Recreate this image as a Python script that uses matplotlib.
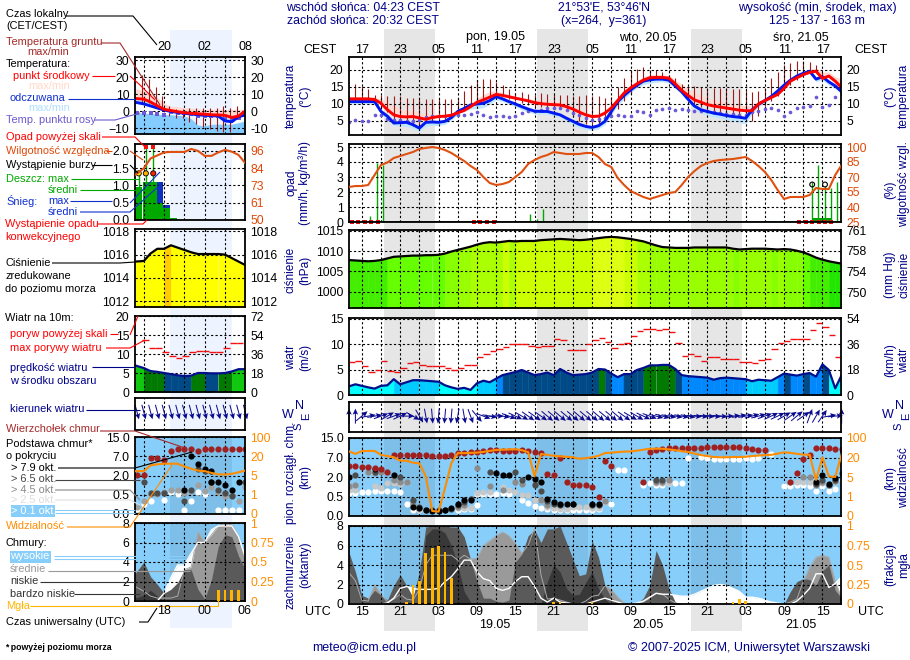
import numpy as np
import matplotlib

matplotlib.use("Agg")
import matplotlib.pyplot as plt
from matplotlib.colors import BoundaryNorm, ListedColormap

plt.rcParams["font.family"] = ["Liberation Sans", "DejaVu Sans"]

# --- main panel, hourly from 13 UTC 18.05 ---
temp_mid = [11.5, 11.5, 11.5, 11.5, 11.3, 10.2, 8.3, 6.8, 6.3, 6.2,
            6.3, 5.9, 5.5, 6.0, 6.3, 6.4, 6.7, 7.4, 8.1, 9.2,
            10.5, 11.2, 12.0, 12.8, 12.5, 12.1, 11.7, 11.3, 10.9, 10.4,
            10.1, 9.9, 9.8, 9.7, 9.2, 8.5, 7.6, 6.8, 6.3, 6.4,
            7.3, 8.8, 11.0, 13.2, 14.7, 15.9, 17.0, 17.7, 17.8, 17.8,
            17.6, 15.9, 14.0, 12.5, 11.2, 10.5, 9.8, 9.4, 9.1, 8.8,
            8.5, 8.2, 8.0, 8.0, 10.0, 11.0, 11.9, 12.8, 14.6, 16.7,
            17.7, 18.6, 19.3, 19.6, 17.5, 18.2, 16.7, 14.8]
temp_feels = [10.7, 10.7, 10.7, 10.7, 10.7, 7.8, 6.4, 4.4, 4.5, 4.6,
              3.9, 2.9, 4.6, 4.7, 4.6, 4.9, 6.0, 7.8, 8.7, 9.7,
              10.0, 10.2, 11.0, 12.2, 11.5, 10.7, 10.0, 9.2, 8.5, 7.9,
              7.8, 7.8, 7.3, 6.8, 5.8, 4.9, 4.0, 3.4, 3.1, 3.6,
              4.9, 7.8, 10.7, 12.5, 14.1, 15.5, 16.7, 17.1, 17.3, 17.3,
              17.0, 15.3, 13.6, 11.4, 9.4, 8.3, 7.8, 7.3, 7.0, 6.6,
              6.3, 6.1, 5.8, 8.3, 9.9, 11.0, 12.2, 13.8, 15.5, 17.0,
              18.2, 19.0, 19.6, 17.3, 18.0, 16.5, 15.3, 13.6]
temp_hi = [12.0, 12.0, 12.0, 12.0, 12.0, 11.5, 10.5, 9.5, 8.5, 8.0,
           8.0, 7.5, 7.2, 7.0, 7.0, 7.0, 7.2, 8.0, 9.0, 10.2,
           11.6, 12.8, 13.6, 13.8, 13.3, 12.8, 12.3, 11.9, 11.6, 11.2,
           11.2, 11.0, 10.8, 10.6, 10.0, 9.3, 8.5, 7.6, 7.0, 7.2,
           8.2, 10.0, 12.0, 14.0, 15.6, 16.8, 18.0, 18.6, 18.6, 18.6,
           18.3, 17.0, 15.8, 14.5, 13.5, 12.5, 11.6, 11.2, 10.8, 10.4,
           10.0, 9.7, 9.5, 9.4, 10.6, 11.6, 12.5, 13.5, 15.3, 17.4,
           18.5, 19.5, 20.2, 20.5, 19.3, 19.4, 18.0, 17.5]
temp_lo = [10.0, 10.0, 10.0, 10.0, 10.0, 7.0, 5.4, 3.6, 3.5, 3.4,
           2.8, 1.9, 3.4, 3.7, 3.7, 4.0, 5.3, 6.9, 7.8, 8.5,
           8.6, 8.9, 10.0, 11.2, 10.7, 10.0, 9.2, 8.3, 7.6, 7.1,
           7.0, 7.0, 6.5, 6.0, 4.9, 3.9, 3.0, 2.5, 2.2, 2.7,
           4.0, 6.8, 9.6, 11.5, 13.2, 14.7, 15.7, 16.1, 16.4, 16.5,
           16.2, 14.5, 12.8, 10.6, 8.5, 7.3, 6.6, 6.2, 5.8, 5.4,
           5.0, 4.6, 4.2, 7.2, 9.2, 10.3, 11.6, 13.0, 14.8, 16.4,
           17.6, 18.4, 19.0, 16.6, 17.0, 15.6, 14.5, 13.0]
dew_point = [4.7, 5.2, 4.9, 4.9, 6.7, 6.7, 5.6, 5.4, 5.2, 4.9,
             4.9, 5.2, 6.2, 6.6, 6.5, 6.4, 6.6, 6.7, 6.9, 7.1,
             7.5, 6.8, 6.2, 6.6, 6.6, 6.2, 6.6, 7.3, 8.0, 8.0,
             8.3, 8.7, 8.7, 8.8, 8.3, 7.3, 6.8, 5.9, 5.2, 5.6,
             5.9, 6.4, 6.7, 6.6, 6.6, 7.8, 7.5, 6.9, 8.1, 8.6,
             8.8, 8.1, 8.5, 8.3, 8.0, 7.8, 7.8, 7.6, 7.3, 7.1,
             7.0, 6.8, 6.8, 7.5, 7.8, 8.5, 8.8, 8.3, 6.5, 7.5,
             8.8, 9.0, 9.5, 11.9, 9.0, 9.7, 12.0, 12.8]
# soil temperature, from 14 UTC
soil_max = [16.0, 15.3, 14.3, 12.6, 12.6, 12.2, 12.2, 12.2, 11.7, 11.7,
            11.4, 11.6, 11.4, 11.4, 11.4, 11.4, 11.8, 13.9, 15.7, 17.0,
            17.4, 17.2, 16.5, 15.5, 14.3, 13.3, 13.4, 12.8, 12.6, 13.1,
            12.8, 12.8, 12.6, 12.6, 12.2, 12.2, 12.5, 12.2, 12.2, 11.7,
            11.9, 15.0, 17.7, 19.7, 20.4, 20.9, 19.9, 19.9, 19.4, 18.5,
            17.5, 16.0, 15.4, 15.4, 15.0, 14.8, 14.8, 14.6, 14.6, 14.3,
            14.3, 14.1, 13.6, 13.9, 14.6, 17.5, 19.4, 21.4, 22.0, 22.6,
            22.5, 22.3, 21.4, 19.4, 18.0, 16.5, 15.5]
soil_min = [11.0, 11.0, 11.0, 10.8, 8.5, 7.5, 5.5, 5.0, 5.0, 3.5,
            3.0, 4.8, 5.0, 5.2, 5.2, 6.5, 8.0, 9.0, 10.0, 10.4,
            11.0, 11.8, 12.5, 12.2, 11.5, 11.0, 10.2, 9.7, 9.2, 9.2,
            9.0, 9.0, 8.8, 8.0, 6.5, 5.0, 4.2, 4.0, 4.2, 5.0,
            6.5, 8.5, 11.0, 13.0, 15.0, 16.5, 17.5, 17.5, 17.5, 17.0,
            15.5, 13.5, 11.5, 10.0, 9.0, 8.3, 7.5, 7.2, 7.0, 6.7,
            6.3, 5.5, 5.0, 6.5, 9.5, 11.0, 12.2, 14.0, 15.5, 17.0,
            18.5, 19.3, 19.5, 17.5, 18.0, 16.5, 15.0]

rel_humidity = [60, 61, 61, 62, 72, 82, 84.5, 89, 91, 93,
                95, 98, 99, 100, 99, 97, 94, 90, 86, 81,
                77, 70, 64, 62, 63, 65, 70, 75, 83, 87,
                90, 92, 95, 94, 93, 93, 93, 94, 94, 90,
                83, 80, 69, 62, 56, 53, 50, 48, 50, 52,
                54, 55, 62, 70, 76, 81, 84, 86, 87, 87.5,
                88, 89, 90, 86, 81, 75, 67, 57, 48, 50,
                50, 50, 52, 59, 58, 58, 72, 82]
rain_hours = [16.35, 17.35, 18.35, 41.35, 42.35, 43.35, 85.35, 86.35, 87.35, 88.35, 89.35]
rain_max = [0.4, 3.95, 3.8, 0.55, 0.2, 0.9, 2.7, 3.8, 2.4, 2.3, 2.7]
rain_mean_hours = [86, 87, 88]
rain_mean = [0.25, 0.25, 0.3]
conv_hours = [13.4, 14.4, 15.5, 16.5, 17.5, 32.6, 33.5, 34.5, 35.6, 83.4, 84.4, 85.4, 86.4, 87.4, 88.4]
storm_hours = [85.4, 87.4]
storm_level = [2.5, 2.5]

pressure = [1007.8, 1007.7, 1007.6, 1007.5, 1007.6, 1007.8, 1008.2, 1008.6, 1008.7, 1008.8,
            1008.9, 1008.9, 1009.0, 1009.0, 1009.1, 1009.4, 1009.9, 1010.3, 1010.7, 1011.1,
            1011.6, 1012.0, 1012.2, 1012.1, 1012.3, 1012.5, 1012.4, 1012.5, 1012.5, 1012.5,
            1012.7, 1012.8, 1012.9, 1013.0, 1012.9, 1012.8, 1012.7, 1012.8, 1013.0, 1013.2,
            1013.4, 1013.5, 1013.4, 1013.2, 1013.0, 1012.7, 1012.4, 1011.9, 1011.4, 1011.0,
            1010.9, 1010.8, 1010.8, 1010.8, 1010.9, 1010.9, 1010.9, 1010.9, 1010.9, 1010.9,
            1010.6, 1010.4, 1010.5, 1010.6, 1010.6, 1010.6, 1010.5, 1010.4, 1010.5, 1010.4,
            1010.1, 1009.7, 1009.1, 1008.4, 1007.9, 1007.5, 1007.2, 1006.9]

wind = [1.7, 2.1, 1.8, 1.5, 1.25, 1.8, 1.9, 3.1, 2.1, 2.5,
        2.9, 2.9, 2.8, 2.7, 2.6, 1.9, 1.5, 1.2, 1.4, 1.0,
        2.3, 2.8, 2.5, 3.2, 3.9, 4.2, 4.5, 4.9, 4.4, 3.9,
        4.1, 4.4, 3.9, 5.1, 4.4, 3.9, 4.0, 4.1, 4.4, 5.1,
        5.0, 4.2, 3.5, 4.1, 4.1, 4.9, 5.3, 5.8, 5.8, 5.9,
        5.9, 5.1, 3.9, 3.7, 3.6, 3.5, 3.4, 3.0, 3.3, 3.4,
        3.3, 3.2, 3.1, 2.7, 3.0, 2.9, 2.8, 3.5, 4.2, 4.0,
        3.8, 4.1, 4.3, 3.6, 6.0, 4.9, 1.3, 3.9]
gust = [6.4, 6.7, 5.7, 4.5, 4.9, 6.7, 4.7, 4.5, 5.2, 6.3,
        6.5, 5.9, 5.6, 5.6, 5.6, 5.3, 4.9, 5.2, 5.9, 5.9,
        7.4, 8.1, 8.7, 9.0, 9.4, 10.0, 10.0, 10.0, 9.7, 9.4,
        9.6, 9.6, 11.0, 10.8, 8.8, 8.8, 8.9, 10.0, 10.8, 11.2,
        10.4, 9.2, 10.0, 10.2, 11.6, 12.5, 13.0, 13.0, 12.8, 13.0,
        12.4, 10.2, 7.6, 8.1, 7.6, 6.6, 7.4, 7.4, 7.0, 7.0,
        7.0, 6.4, 6.4, 6.2, 6.8, 7.0, 9.0, 10.2, 10.6, 11.0,
        11.0, 11.0, 12.8, 14.1, 13.3, 11.8, 7.4]
wind_from = [180, 180, 230, 260, 260, 250, 240, 250, 245, 270,
             300, 330, 350, 355, 5, 5, 5, 10, 350, 340,
             320, 290, 280, 270, 280, 290, 295, 300, 305, 305,
             305, 310, 310, 310, 310, 310, 310, 310, 310, 310,
             310, 310, 310, 305, 300, 300, 295, 290, 285, 285,
             280, 280, 280, 280, 275, 275, 275, 275, 275, 270,
             265, 260, 260, 255, 255, 250, 245, 245, 240, 235,
             230, 235, 200, 210, 215, 260, 265, 180]

visibility = [45, 35, 46, 47, 47, 31, 26, 21, 17.5, 17.5,
              16, 15.5, 5.5, 0.26, 0.22, 2.7, 15.7, 38, 38, 39,
              40, 43, 47, 51, 52, 53, 54, 50, 42, 5.5,
              34, 31, 27, 25, 23, 21, 19, 19.5, 21, 27,
              38, 40, 42, 44, 45, 48, 52, 56, 56, 56,
              53, 50, 46, 42, 36, 30, 26, 22, 21, 21,
              22, 22, 23, 26, 28, 30, 31, 36, 41, 39,
              35, 32, 31, 4.4, 21, 5.5, 5, 34]

top_hours = list(range(13, 55)) + list(range(59, 79)) + list(range(82, 91))
top_km = [4.7, 4.7, 4.5, 4.5, 4.4, 4.1, 3.4, 8.2, 8.2, 8.2,
          8.2, 8.2, 8.1, 7.8, 7.5, 7.5, 8.1, 8.8, 8.8, 9.2,
          9.2, 9.8, 9.9, 9.9, 9.8, 9.8, 9.8, 9.9, 9.5, 9.1,
          8.8, 2.8, 2.6, 6.8, 1.6, 1.35, 1.35, 1.35, 1.25, 0.48,
          6.0, 4.8,
          1.6, 9.2, 10.2, 10.6, 10.9, 10.9, 10.9, 10.8, 10.8, 10.8,
          11.3, 11.3, 11.3, 11.3, 11.3, 11.3, 10.9, 10.6, 10.2, 10.2,
          1.6, 3.1, 6.6, 7.9, 10.9, 10.9, 10.9, 10.5, 10.4]
base79_hours = [13, 17, 20, 23, 24, 25, 26, 27, 28, 29, 30, 31, 32, 36, 37, 38, 41, 42, 43, 44, 45, 46, 47, 48, 51, 52, 86, 87, 88, 89]
base79_km = [2, 4, 2.5, .24, .21, .15, .13, .13, .15, .2, .32, .42, .42, 3, 2.5, 2.4, 2.1, 1.85, 1.65, .43, .37, .32, .32, .32, .32, .32, 1.65, 2.5, 1.5, 1.95]
base65_hours = [14, 17, 21, 23, 24, 25, 26, 27, 28, 29, 30, 31, 32, 35, 39, 40, 42, 43, 44, 45, 46, 48, 51, 52, 61, 62, 86, 87, 88, 89, 90]
base65_km = [2.6, 3.4, 2.1, .41, .24, .16, .15, .15, .16, .18, .28, .37, .44, 3.4, 3.4, 1.8, 1.4, .95, .38, .3, .28, .32, .28, .28, 1.8, 1.8, 1.5, 1.8, 1.4, 1.8, 3]
base45_hours = [13, 14, 16, 17, 18, 20, 21, 22, 23, 24, 30, 31, 32, 33, 35, 37, 39, 40, 42, 43, 44, 53, 61, 62, 63, 84, 85, 86, 87, 89]
base45_km = [1.27, 1.4, 3.4, 3.1, 3.2, 1.8, 1.65, 1.65, .32, .2, .24, .28, .44, 4.3, 1.27, 1, 1.65, 1.45, 1.45, .41, .28, .38, 1.6, 1.6, 1.8, 2, 2, 1.35, 1.6, 1.7]
base25_hours = [13, 14, 16, 17, 18, 19, 20, 21, 22, 23, 24, 30, 31, 32, 33, 34, 35, 37, 38, 39, 40, 41, 42, 43, 44, 45, 46, 47, 48, 49, 50, 51, 52, 53, 61, 62, 63, 82, 83, 84, 85, 86, 87, 89]
base25_km = [1, 1, 3.4, 1.27, 1.13, 1.52, 1.52, 1.45, 1.6, .3, .16, .2, .21, .2, .75, .88, .88, 1.2, 1, .88, .65, .6, .41, .41, .24, .2, .18, .18, .24, .24, .24, .2, .2, .35, 1.52, 1.52, 1.52, 1.65, 1.65, 1.6, 1.6, 1.35, 1.52, 1.65]
base01_hours = [13, 14, 15, 16, 17, 18, 19, 20, 21, 22, 23, 24, 30, 31, 32, 33, 33, 34, 35, 36, 37, 38, 40, 41, 42, 43, 44, 45, 46, 47, 48, 49, 50, 51, 52, 54, 55, 56, 59, 60, 61, 62, 63, 64, 65, 66, 68, 69, 70, 71, 72, 73, 74, 75, 76, 77, 79, 81, 82, 83, 84, 85, 86, 87, 88, 89, 90]
base01_km = [.75, .8, .82, .88, .95, .93, .95, .93, .82, .32, .15, .15, .16, .18, .18, .27, .7, .7, .7, .7, .75, .7, .42, .33, .26, .2, .18, .16, .16, .16, .16, .16, .16, .16, .18, .3, 3.7, 3.7, 1.4, 1.52, 1.4, 1.4, 1.52, 1.52, 1.52, 6.8, 7.1, 7, 6.7, 6.7, 6.7, 6.7, 6.7, 7, 6.7, 7, 8.3, 1.27, 1.27, 1.4, 1.4, 1.27, .95, 1.27, .95, 1.05, 1.8]

cloud_high = [0, 0, 0, 0, 0, 0, .1, .6, 1.6, 1.8,
              1.6, 1.5, 1.5, 1.5, 1.6, 2.3, 2.8, 3.6, 4.5, 4.5,
              3.3, 2.6, 2.4, 1.6, 1.4, 1.6, 2.3, 2.8, 2.8, 1.8,
              .6, .2, .6, .2, .1, 0, 0, 0, .2, .4,
              .6, .4, .2, 0, 0, .1, .3, .7, 1.1, 1.0,
              1.0, .9, .8, .8, 1.0, 1.3, 1.6, 1.9, 2.0, 1.9,
              1.6, 1.3, .7, .7, .6, .4, .2, .1, 0, 0,
              .3, .9, 1.6, 3.1, 3.1, 1.7, 2.1, 2.8]
cloud_mid = [3.2, 2.4, .4, .3, 2, 1, .2, .5, 1, .5,
             .4, 1.5, 4, 5, 5, 5, 5, 4.5, 5, 4.6,
             4.7, 6, 6.5, 7, 7.4, 7, 6.2, 5.2, 6, 7.8,
             3, .5, .6, .4, .2, 0, 0, .3, .8, .9,
             1.9, 1.5, .7, .1, 0, 0, .2, .6, 1.1, 1.0,
             .5, .1, 0, 0, 0, 0, 0, 0, 0, 0,
             0, 0, 0, 0, 0, 0, 0, 0, 0, .2,
             .5, 2.3, 3.8, 4.8, 5, 4.8, 2.3, .6]
cloud_low = [5.3, 3.3, .9, .6, 1.4, .9, .4, 1.9, 3, 1.9,
             .7, 3.3, 7.9, 8, 8, 8, 7.9, 7.9, 6.9, 4.6,
             2.3, .6, .6, .3, .2, .4, 4.3, 5.1, 7, 7.6,
             6.3, 7.7, 7.7, 8, 6.3, 4.6, 2.9, 3.1, 6.5, 4.8,
             1.9, .6, .2, 0, 0, .1, .6, 1.9, 5.5, 4,
             1.6, .2, 0, 0, 0, 0, 0, 0, 0, 0,
             0, 0, 0, 0, 0, 0, 0, 0, 0, 1.3,
             2.3, 2.6, 2.5, 1.9, 3.4, 4, 1.4, .6]
cloud_vlow = [0, 0, 0, 0, 0, 0, 0, 0, 0, 0,
              0, 0, 7, 7.7, 7.7, 7.3, 6, 4, 1.3, .2,
              0, 0, 0, 0, 0, 0, 0, 0, 0, 0,
              0, 2.3, 4, 3.3, 1.6, .9, 1, 2.2, 3.3, 1.6,
              .5, 0, 0, 0, 0, 0, 0, 0, 0, 0,
              0, 0, 0, 0, 0, 0, 0, 0, 0, 0,
              0, 0, 0, 0, 0, 0, 0, 0, 0, 0,
              0, 0, 0, 0, 0, 0, 0, 0]
fog_hours = [22, 23, 24, 25, 26, 27, 28, 29, 45, 46, 51, 73, 74, 75]
fog_frac = [.03, .24, .3, .66, .72, .74, .67, .33, .02, .02, .02, .03, .07, .04]

# --- left panel, 16 hours ---
left_hours = [13.7] + list(range(15, 31))
l_temp_mid = [7.4, 7, 5.3, 3.1, 1, .3, -.4, -1, -1.3, -1.6, -1.9, -2.2, -2.3, -2.5, -3.8, -2.9, 0]
l_temp_feels = [5.2, 4.2, 3, 1.8, .6, -.2, -.8, -1.3, -1.7, -2.2, -2.5, -2.7, -2.9, -5.8, -6.3, -3.3, -2.3]
l_temp_hi = [13.2, 12, 10.5, 8, 4.5, 2.8, 2.5, 2, 1.7, 1.3, 1, 1, 1, 1, 1, 1, 1]
l_temp_lo = [-1, -1.2, -1.5, -1.8, -2, -2.2, -2.5, -2.9, -4.5, -8.2, -8.6, -7.8, -7.7, -7.7, -7.7, -6.8, -5.8]
l_dew_hours = list(range(14, 30))
l_dew = [-1, -1, -1.3, -1.7, -2.1, -.6, -1, -1.3, -1.9, -3.2, -2.9, -3.2, -3.2, -4.8, -4.4, -3.8]
l_soil_hours = [14.75, 15.75, 16.75, 17.75, 18.75, 19.75, 20.75, 21.75, 22.75, 23.75, 24.75, 25.75, 26.75, 27.75, 28.75]
l_soil_max = [21, 19, 14, 8.6, 2.9, 1, 1, 1.9, 1.9, 1.9, 1.9, 1.9, 2.9, 1.9, 2.9]
l_soil_min = [4.8, 4.8, 2.9, 1, -2.9, -3.8, -3.8, -6.7, -7.7, -9.6, -10.6, -11.5, -12.5, -12.5, -2.9]

l_rain_edges = [13.7, 14.9, 15.9, 16.9, 17.9, 18.9]
l_rain = [.96, 1.1, 1.1, .5, .35, .05]
l_snow = [0, 0, 0, 1.1, .43, 0]
l_max_hours = [14.25, 15.3, 16.4]
l_max_rain = [1.45, 2.1, 2.1]
l_storm_y = [1.35, 1.35, 1.35]
l_storm_colors = ["#ffe000", "#ffb000", "#ff2000"]
l_over_hours = [15.3, 16.4]
l_rh = [80, 84.4, 91, 93, 95, 95.3, 95.3, 95.3, 97.3, 96, 92.7, 92.7, 95, 96.7, 95.5, 93.3, 87.8]
l_pressure = [1015.4, 1015.45, 1016.1, 1016.5, 1016.5, 1016.8, 1016.6, 1016.4, 1016.2, 1016.05, 1016.05, 1016.05, 1016.05, 1016.0, 1015.7, 1015.4, 1015.1]
l_wind = [7, 6.3, 5.5, 5.3, 5, 4.7, 4.4, 4.2, 4.3, 5.0, 5.0, 4.9, 4.9, 5.0, 5.4, 6.0, 6.0]
l_gust = [13.6, 11.7, 11.7, 10.6, 9.6, 8.9, 9.6, 10.6, 10.9, 10.9, 10.6, 10.6, 11.7, 12.8, 13]
l_gust_hours = [14.7, 15.7, 16.7, 17.7, 18.7, 19.7, 20.7, 21.7, 22.7, 23.7, 24.7, 25.7, 26.7, 27.7, 28.7]
l_wind_from = [345] * 17
l_top = [2.1, 2.1, 6.5, 6.5, 6, 9, 10, 10, 10, 9, 10, 10, 10, 10, 10, 10, 10]
l_b79_hours = [21, 22, 23, 24, 25, 25, 26, 27, 28, 29]
l_b79 = [.9, 7.1, 4.9, 3.8, 3.2, 1.5, 1.5, 1.24, .9, 1.5]
l_b65_hours = [15, 16, 17, 18, 21, 22, 23, 24, 25, 26, 27, 28, 30]
l_b65 = [1.5, .65, .65, .65, .35, .9, 3.7, 3.2, 1.5, .9, .65, .48, 1.5]
l_b45_hours = list(range(14, 31))
l_b45 = [.19, .35, .58, .58, .71, .9, .9, .62, .76, 1.24, .76, 1.1, .71, .48, .51, .35, 1.1]
l_b01_hours = [14, 15, 16, 18, 19, 20, 21, 22, 23, 24, 26, 27, 28, 29]
l_b01 = [.13, .26, .35, .37, .71, .58, .1, .35, .71, .58, .1, .1, .1, .1]
l_vis = [8.4, 8.4, 12.9, 13.7, 14.2, 14.2, 14.2, 12, 10.3, 8.8, 8.4, 7, 5.9, 5.8, 6.3, 7.5, 8.9]
l_cloud_high = [0, 0, 0, 0, .8, 2.4, 3.7, 3.7, 4.9, 6, 6, 7.3, 7.7, 7.7, 7.7, 6.6, 4.5]
l_cloud_mid = [1.5, 1, .5, .3, .3, .3, .5, 3.2, 3.5, 7.1, 6, 6.8, 7.7, 7.9, 7.9, 6.6, 4.1]
l_cloud_low = [2.8, 4, 2.5, 1.7, .8, 1.2, 1.9, 3.2, 3.2, 1.2, .2, 2.2, 5.6, 6.8, 6.6, 4.6, 3.2]
l_cloud_vlow = [.3, .6, 1.1, .5, 0, 0, 0, 0, 0, 0, 0, 0, 0, 0, 0, 0, 0]
l_fog_hours = [26, 27, 28, 29]
l_fog = [.145, .145, .145, .145]

cest_labels = ["17", "23", "05", "11", "17", "23", "05", "11", "17", "23", "05", "11", "17"]
utc_labels = ["15", "21", "03", "09", "15", "21", "03", "09", "15", "21", "03", "09", "15"]
label_hours = list(range(15, 88, 6))
night_spans = [(18.47, 26.38), (42.38, 50.3), (66.4, 74.4)]

NAVY = "#000088"
RH_COL = "#e04808"
ORANGE = "#ff8c00"
SKY = "#87cefa"
FS = 7.9

press_bounds = [990, 1007.5, 1008.5, 1009.5, 1010.5, 1011.5, 1012.5, 1013.2, 1014, 1016.7, 1020]
press_cmap = ListedColormap(["#22e600", "#44ee00", "#66ff00", "#88ff00", "#99ff00",
                             "#aaff00", "#ccff00", "#ddff11", "#ffff00", "#ffcc00"])
press_norm = BoundaryNorm(press_bounds, press_cmap.N)
wind_bounds = [0, 2, 3, 3.85, 5, 5.95, 20]
wind_cmap = ListedColormap(["#00ffff", "#00ccff", "#0088ff", "#004a88", "#007a00", "#10c810"])
wind_norm = BoundaryNorm(wind_bounds, wind_cmap.N)


def base_fwd(v):
    return np.interp(v, [0, .5, 2, 7, 15], [0, 1, 2, 3, 4])


def base_inv(v):
    return np.interp(v, [0, 1, 2, 3, 4], [0, .5, 2, 7, 15])


def vis_fwd(v):
    return np.interp(v, [0, 1, 5, 20, 100], [0, 1, 2, 3, 4])


def vis_inv(v):
    return np.interp(v, [0, 1, 2, 3, 4], [0, 1, 5, 20, 100])


fig = plt.figure(figsize=(9.1, 6.6), dpi=100)


def add_px_axes(left, top, right, bottom, xlim, xticks):
    ax = fig.add_axes([left / 910, 1 - bottom / 660, (right - left) / 910, (bottom - top) / 660])
    ax.set_facecolor("none")
    ax.set_xlim(*xlim)
    ax.set_xticks(xticks)
    ax.set_axisbelow(False)
    ax.grid(True, color="black", linestyle=(0, (2, 2)), linewidth=0.8)
    ax.tick_params(length=0, labelbottom=False, labelsize=8.8, pad=4)
    for s in ax.spines.values():
        s.set_linewidth(1.3)
        s.set_zorder(6)
    return ax


def twin_axis(ax, lim, ticks, labels, color="black"):
    tw = ax.twinx()
    tw.set_ylim(*lim)
    tw.set_yticks(ticks)
    tw.set_yticklabels(labels)
    tw.tick_params(length=0, labelsize=8.8, pad=4, labelcolor=color)
    for s in tw.spines.values():
        s.set_visible(False)
    return tw


def stepped_fill(ax, x, y, bottom, cmap, norm, pick):
    for i in range(len(x) - 1):
        col = cmap(norm(pick(y[i], y[i + 1])))
        ax.fill_between(x[i:i + 2], bottom, y[i:i + 2], color=col, linewidth=0.3, zorder=1)


def seg_end(a, b):
    return b


def draw_temp(ax, x, mid, feels, hi, lo, dew_x, dew, soil_x, smax, smin, dew_marker):
    ax.fill_between(x, mid, hi, color="#ffd9d2", linewidth=0, zorder=1)
    ax.fill_between(x, lo, feels, color="#bfe6ff", linewidth=0, zorder=1)
    ax.vlines(soil_x, smin, smax, color="#a01818", linewidth=0.8, zorder=2)
    ax.scatter(dew_x, dew, s=7, marker=dew_marker, color="#6a5ad8", linewidth=0, zorder=3)
    ax.plot(x, feels, color="#0018f0", linewidth=2.1, zorder=3)
    ax.plot(x, mid, color="#ff0000", linewidth=2.1, zorder=4)


def draw_dots(ax, sets, size):
    for hrs, km, col in sets:
        ax.scatter(hrs, km, s=size, color=col, linewidth=0, zorder=3, clip_on=True)


def draw_clouds(ax, x, high, mid, low, vlow):
    ax.set_facecolor(SKY)
    ax.fill_between(x, 0, high, color="white", linewidth=0, zorder=1.1)
    ax.fill_between(x, 0, mid, color="#9a9a9a", linewidth=0, zorder=1.2)
    ax.fill_between(x, 0, low, color="#5a5a5a", linewidth=0, zorder=1.3)
    ax.fill_between(x, 0, vlow, color="#383838", linewidth=0, zorder=1.4)
    ax.plot(x, mid, color="#aaaaaa", linewidth=0.7, zorder=1.5)
    ax.plot(x, high, color="white", linewidth=1.0, zorder=1.6)


def draw_arrows(ax, x, dirs, y0):
    rad = np.deg2rad(np.array(dirs, dtype=float))
    u = -np.sin(rad)
    v = -np.cos(rad)
    ax.quiver(x, np.full(len(x), y0), u * 15, v * 15, color="#0a0a90", angles="uv",
              scale_units="dots", scale=1, units="dots", width=1.0, headwidth=5.5,
              headlength=6, headaxislength=5, pivot="mid", clip_on=False, zorder=4)


main_x = np.arange(13, 91)
main_xlim = (13, 89.9)
main_ticks = list(range(15, 90, 3))
left_xlim = (13.7, 29.95)
left_ticks = [15, 18, 21, 24, 27]


def hx(h):
    return 349 + 6.4 * (h - 13)


# page background bands
bg = fig.add_axes([0, 0, 1, 1], zorder=-1)
bg.set_xlim(0, 910)
bg.set_ylim(660, 0)
bg.axis("off")
for a, b in night_spans:
    bg.fill_between([hx(a), hx(b)], 29, 631, color="#e6e6e6", linewidth=0)
bg.fill_between([170, 232], 30, 628, color="#eef4ff", linewidth=0)

# main panels
ax = add_px_axes(349, 57, 841, 135, main_xlim, main_ticks)
ax.set_ylim(0.88, 23.8)
ax.set_yticks([5, 10, 15, 20])
draw_temp(ax, main_x, temp_mid, temp_feels, temp_hi, temp_lo, main_x, dew_point,
          np.arange(14, 91), soil_max, soil_min, "o")
twin_axis(ax, ax.get_ylim(), [5, 10, 15, 20], ["5", "10", "15", "20"])

ax = add_px_axes(349, 144, 841, 222, main_xlim, main_ticks)
ax.set_ylim(0, 5.2)
ax.set_yticks([0, 1, 2, 3, 4, 5])
ax.bar(rain_mean_hours, rain_mean, width=1, color="#00a000", zorder=2)
ax.vlines(rain_hours, 0, rain_max, color="#00a800", linewidth=1.0, zorder=2)
ax.axhline(0, color="#006000", linewidth=1.2, zorder=2)
ax.scatter(conv_hours, [0.02] * len(conv_hours), s=6, marker="s", color="#e01010", linewidth=0, zorder=4, clip_on=False)
ax.scatter(storm_hours, storm_level, s=12, facecolor="none", edgecolor="black", linewidth=0.8, zorder=4)
tw = twin_axis(ax, (25, 103), [25, 40, 55, 70, 85, 100], ["25", "40", "55", "70", "85", "100"], RH_COL)
tw.plot(main_x, rel_humidity, color="#e05010", linewidth=1.5)

ax = add_px_axes(349, 230, 841, 308, main_xlim, main_ticks)
ax.set_ylim(996, 1015.2)
ax.set_yticks([1000, 1005, 1010, 1015])
stepped_fill(ax, main_x, pressure, 996, press_cmap, press_norm, seg_end)
ax.plot(main_x, pressure, color="black", linewidth=1.6, zorder=3)
twin_axis(ax, (996 * 0.75006, 1015.2 * 0.75006), [750, 753.8, 757.6, 761.3], ["750", "754", "758", "761"])

ax = add_px_axes(349, 318, 841, 395, main_xlim, main_ticks)
ax.set_ylim(0, 15.1)
ax.set_yticks([0, 5, 10, 15])
stepped_fill(ax, main_x, wind, 0, wind_cmap, wind_norm, min)
ax.plot(main_x, wind, color="#00108c", linewidth=1.6, zorder=3)
ax.hlines(gust, main_x[:-1], main_x[:-1] + 1, color="#f01010", linewidth=1.0, zorder=3)
twin_axis(ax, (0, 15.1 * 3.6), [0, 18, 36, 54], ["0", "18", "36", "54"])

ax = add_px_axes(349, 402, 841, 432, main_xlim, main_ticks)
ax.set_ylim(0, 1)
ax.set_yticks([])
draw_arrows(ax, main_x, wind_from, 0.53)

ax = add_px_axes(349, 438, 841, 516, main_xlim, main_ticks)
ax.set_facecolor(SKY)
ax.set_yscale("function", functions=(base_fwd, base_inv))
ax.set_ylim(0, 15)
ax.set_yticks([0, .5, 2, 7, 15])
ax.set_yticklabels(["0.0", "0.5", "2.0", "7.0", "15.0"])
ax.minorticks_off()
for a, b in night_spans:
    ax.axvspan(a, b, color="black", alpha=0.07, linewidth=0, zorder=0.5)
draw_dots(ax, [(base01_hours, base01_km, "white"), (base25_hours, base25_km, "#c8c8c8"),
               (base45_hours, base45_km, "#8c8c8c"), (base65_hours, base65_km, "#4c4c4c"),
               (base79_hours, base79_km, "black"), (top_hours, top_km, "#a02020")], 20)
tw = twin_axis(ax, (0, 1), [], [], ORANGE)
tw.set_yscale("function", functions=(vis_fwd, vis_inv))
tw.set_ylim(0, 100)
tw.set_yticks([0, 1, 5, 20, 100])
tw.set_yticklabels(["0", "1", "5", "20", "100"])
tw.minorticks_off()
tw.plot(main_x, visibility, color="#ff8c00", linewidth=1.5)

ax = add_px_axes(349, 526, 841, 604, main_xlim, main_ticks)
ax.set_ylim(0, 8)
ax.set_yticks([0, 2, 4, 6, 8])
draw_clouds(ax, main_x, cloud_high, cloud_mid, cloud_low, cloud_vlow)
for a, b in night_spans:
    ax.axvspan(a, b, color="black", alpha=0.07, linewidth=0, zorder=0.5)
tw = twin_axis(ax, (0, 1), [0, .25, .5, .75, 1], ["0", "0.25", "0.5", "0.75", "1"], ORANGE)
tw.bar(fog_hours, fog_frac, width=0.42, color="#ffb400")

# left panels
lx = np.array(left_hours, dtype=float)
ax = add_px_axes(135, 57, 245, 134, left_xlim, left_ticks)
ax.set_ylim(-13.5, 31.8)
ax.set_yticks([-10, 0, 10, 20, 30])
ax.fill_between(lx, -13.5, l_temp_lo, color="#84ccff", linewidth=0, zorder=1)
draw_temp(ax, lx, l_temp_mid, l_temp_feels, l_temp_hi, l_temp_mid, l_dew_hours, l_dew,
          l_soil_hours, l_soil_max, l_soil_min, "s")
twin_axis(ax, ax.get_ylim(), [-10, 0, 10, 20, 30], ["-10", "0", "10", "20", "30"])

ax = add_px_axes(135, 144, 245, 220, left_xlim, left_ticks)
ax.set_ylim(0, 2.2)
ax.set_yticks([0, .5, 1, 1.5, 2])
ax.set_yticklabels(["0.0", "0.5", "1.0", "1.5", "2.0"])
ax.bar(l_rain_edges, l_snow, width=1.0, align="edge", color="#1030c0", zorder=1)
ax.bar(l_rain_edges, l_rain, width=1.0, align="edge", color="#00a800", zorder=1.1)
ax.vlines(l_max_hours, 0, l_max_rain, color="#00a800", linewidth=1.0, zorder=2)
ax.scatter(l_max_hours, l_storm_y, s=14, c=l_storm_colors, edgecolor="black", linewidth=0.6, zorder=4)
ax.scatter(l_over_hours, [2.1, 2.1], s=8, marker="s", color="#f01010", linewidth=0, zorder=4)
ax.hlines([0.01], [14], [18], color="#e01010", linewidth=1.2, linestyle=(0, (2, 1)), zorder=4)
tw = twin_axis(ax, (50, 100.6), [50, 61.5, 73, 84.5, 96], ["50", "61", "73", "84", "96"], RH_COL)
tw.plot(lx, l_rh, color="#e05010", linewidth=1.5)

ax = add_px_axes(135, 229, 245, 307, left_xlim, left_ticks)
ax.set_ylim(1011.5, 1018.2)
ax.set_yticks([1012, 1014, 1016, 1018])
stepped_fill(ax, lx, l_pressure, 1011.5, press_cmap, press_norm, seg_end)
ax.plot(lx, l_pressure, color="black", linewidth=1.6, zorder=3)
twin_axis(ax, ax.get_ylim(), [1012, 1014, 1016, 1018], ["1012", "1014", "1016", "1018"])

ax = add_px_axes(135, 316, 245, 392, left_xlim, left_ticks)
ax.set_ylim(0, 20)
ax.set_yticks([0, 5, 10, 15, 20])
stepped_fill(ax, lx, l_wind, 0, wind_cmap, wind_norm, seg_end)
ax.plot(lx, l_wind, color="#00108c", linewidth=1.6, zorder=3)
ax.hlines(l_gust, l_gust_hours, np.array(l_gust_hours) + 1, color="#f01010", linewidth=1.0, zorder=3)
twin_axis(ax, (0, 72), [0, 18, 36, 54, 72], ["0", "18", "36", "54", "72"])

ax = add_px_axes(135, 398, 245, 430, left_xlim, left_ticks)
ax.set_ylim(0, 1)
ax.set_yticks([])
draw_arrows(ax, np.arange(14, 31), l_wind_from, 0.56)

ax = add_px_axes(135, 437, 245, 514, left_xlim, left_ticks)
ax.set_facecolor(SKY)
ax.set_yscale("function", functions=(base_fwd, base_inv))
ax.set_ylim(0, 15)
ax.set_yticks([0, .5, 2, 7, 15])
ax.set_yticklabels(["0.0", "0.5", "2.0", "7.0", "15.0"])
ax.minorticks_off()
ax.axvspan(18.9, 28.1, color="black", alpha=0.07, linewidth=0, zorder=0.5)
draw_dots(ax, [(l_b01_hours, l_b01, "white"), (l_b45_hours, l_b45, "#a0a0a0"), (l_b65_hours, l_b65, "#4c4c4c"),
               (l_b79_hours, l_b79, "black"), (np.arange(14, 31), l_top, "#a02020")], 20)
tw = twin_axis(ax, (0, 1), [], [], ORANGE)
tw.set_yscale("function", functions=(vis_fwd, vis_inv))
tw.set_ylim(0, 100)
tw.set_yticks([0, 1, 5, 20, 100])
tw.set_yticklabels(["0", "1", "5", "20", "100"])
tw.minorticks_off()
tw.plot(lx, l_vis, color="#ff8c00", linewidth=1.5)

ax = add_px_axes(135, 523, 245, 601, left_xlim, left_ticks)
ax.set_ylim(0, 8)
ax.set_yticks([0, 2, 4, 6, 8])
draw_clouds(ax, lx, l_cloud_high, l_cloud_mid, l_cloud_low, l_cloud_vlow)
ax.axvspan(18.9, 28.1, color="black", alpha=0.07, linewidth=0, zorder=0.5)
tw = twin_axis(ax, (0, 1), [0, .25, .5, .75, 1], ["0", "0.25", "0.5", "0.75", "1"], ORANGE)
tw.bar(l_fog_hours, l_fog, width=0.4, color="#ffb400")

# overlay for all page text and leader lines
ov = fig.add_axes([0, 0, 1, 1], zorder=10)
ov.set_xlim(0, 910)
ov.set_ylim(660, 0)
ov.axis("off")
ov.patch.set_alpha(0)


def txt(x, y, s, color="black", ha="left", size=FS, **kw):
    ov.text(x, y, s, color=color, ha=ha, va="center", fontsize=size, **kw)


def lead(xs, ys, color="black", lw=0.8):
    ov.plot(xs, ys, color=color, linewidth=lw, solid_capstyle="butt")


# header
HS = 8.8
txt(363, 8, "wschód słońca: 04:23 CEST", NAVY, "center", HS)
txt(363, 21, "zachód słońca: 20:32 CEST", NAVY, "center", HS)
txt(604, 8, "21°53'E, 53°46'N", NAVY, "center", HS)
txt(604, 21, "(x=264,  y=361)", NAVY, "center", HS)
txt(817, 8, "wysokość (min, środek, max)", NAVY, "center", HS)
txt(817, 21, "125 - 137 - 163 m", NAVY, "center", HS)

for h, c, u in zip(label_hours, cest_labels, utc_labels):
    txt(hx(h), 50, c, ha="center", size=9)
    txt(hx(h), 612, u, ha="center", size=9)
for x, d in [(495, "pon, 19.05"), (648, "wto, 20.05"), (801, "śro, 21.05")]:
    txt(x, 37, d, ha="center", size=9)
for x, d in [(495, "19.05"), (648, "20.05"), (801, "21.05")]:
    txt(x, 625, d, ha="center", size=9)
txt(320, 50, "CEST", ha="center", size=9)
txt(871, 50, "CEST", ha="center", size=9)
txt(318, 612, "UTC", ha="center", size=9)
txt(871, 612, "UTC", ha="center", size=9)

for x, lab in [(164, "20"), (204, "02"), (245, "08")]:
    txt(x, 47, lab, ha="center", size=9)
for x, lab in [(164, "18"), (204, "00"), (245, "06")]:
    txt(x, 611, lab, ha="center", size=9)

# rotated unit labels
for x, y, s in [(291, 96, "temperatura"), (305, 96, "(°C)"), (291, 183, "opad"), (305, 183, "(mm/h, kg/m³/h)"),
                (291, 270, "ciśnienie"), (305, 270, "(hPa)"), (291, 357, "wiatr"), (305, 357, "(m/s)"),
                (291, 473, "pion. rozciągł. chm."), (305, 477, "(km)"),
                (291, 572, "zachmurzenie"), (305, 565, "(oktanty)"),
                (904, 96, "temperatura"), (890, 96, "(°C)"), (904, 184, "wilgotność wzgl."), (890, 190, "(%)"),
                (904, 275, "ciśnienie"), (890, 275, "(mm Hg)"), (904, 360, "wiatr"), (890, 360, "(km/h)"),
                (904, 478, "widzialność"), (890, 478, "(km)"), (904, 565, "mgła"), (890, 565, "(frakcja)")]:
    txt(x, y, s, NAVY, "center", 8.6, rotation=90)

# compass marks
for dx in (0, 600):
    txt(288 + dx, 415, "W", NAVY, "center", size=9)
    txt(299 + dx, 406, "N", NAVY, "center", size=9)
    txt(306 + dx, 416, "E", NAVY, "center", size=8, rotation=90)
    txt(298 + dx, 426, "S", NAVY, "center", size=8, rotation=90)

# footer
txt(364, 648, "meteo@icm.edu.pl", NAVY, "center", size=9)
txt(749, 648, "© 2007-2025 ICM, Uniwersytet Warszawski", NAVY, "center", size=9)
txt(5, 648, "* powyżej poziomu morza", size=6.3, fontweight="bold")

# left legend, top to bottom
BROWN = "#a52a2a"
RED = "#ff0000"
GREEN = "#00a800"
BLUE = "#1030d0"
txt(6, 14, "Czas lokalny")
txt(6, 26, "(CET/CEST)")
lead([66, 133, 157], [16, 16, 45])
txt(6, 42, "Temperatura gruntu", BROWN)
txt(27, 52, "max/min", BROWN)
lead([101, 120, 160], [43, 43, 105], BROWN)
txt(6, 64, "Temperatura:")
txt(13, 76, "punkt środkowy", RED)
lead([92, 115], [76, 76], RED)
lead([130, 140, 155], [76, 85, 100], RED)
txt(28, 86, "max/min", "#ffd8c8")
txt(10, 98, "odczuwana", BLUE)
lead([68, 135], [99, 99], BLUE)
txt(28, 108, "max/min", "#b0e0ff")
txt(6, 120, "Temp. punktu rosy", "#6a5acd")
lead([94, 115, 140], [120, 120, 113], "#6a5acd")
txt(6, 137, "Opad powyżej skali", RED)
lead([102, 135, 145], [137, 137, 147], RED)
txt(6, 151, "Wilgotność względna", RH_COL)
lead([106, 112], [151, 151], RH_COL)
lead([130, 143], [151, 160], RH_COL)
txt(6, 165, "Wystąpienie burzy")
lead([92, 112], [165, 165])
lead([130, 138], [165, 173])
txt(6, 179, "Deszcz: max", GREEN)
lead([71, 139], [179, 179], GREEN)
txt(48, 190, "średni", GREEN)
lead([80, 145], [190, 190], GREEN)
txt(6, 201, "Śnieg:", BLUE)
txt(48, 201, "max", BLUE)
lead([70, 112], [201, 201], BLUE)
lead([130, 160], [203, 172], BLUE)
txt(48, 212, "średni", BLUE)
lead([80, 130, 160], [212, 212, 185], BLUE)
txt(5, 224, "Wystąpienie opadu", RED)
txt(5, 237, "konwekcyjnego", RED)
lead([97, 143, 147], [224, 224, 220], RED)
txt(5, 263, "Ciśnienie")
txt(5, 276, "zredukowane")
txt(5, 289, "do poziomu morza")
lead([52, 120, 135], [263, 263, 262])
txt(5, 318, "Wiatr na 10m:")
txt(10, 334, "poryw powyżej skali", RED)
lead([110, 118], [334, 334], RED)
lead([130, 138], [335, 316], RED)
txt(10, 348, "max porywy wiatru", RED)
lead([106, 130, 145], [348, 348, 340], RED)
txt(10, 368, "prędkość wiatru", NAVY)
txt(10, 381, "w środku obszaru", NAVY)
lead([92, 135], [367, 367], NAVY)
txt(10, 409, "kierunek wiatru", NAVY)
lead([86, 140], [410, 410], NAVY)
txt(6, 429, "Wierzchołek chmur", BROWN)
lead([100, 135, 185], [431, 431, 448], BROWN)
txt(6, 444, "Podstawa chmur*")
txt(6, 456, "o pokryciu")
txt(11, 468, "> 7.9 okt.")
lead([58, 135, 192], [468, 468, 452])
txt(11, 479, "> 6.5 okt.", "#444444")
lead([55, 140], [480, 480], "#444444")
txt(11, 490, "> 4.5 okt.", "#888888")
lead([55, 130, 140], [490, 490, 500], "#888888")
txt(11, 500, "> 2.5 okt.", "#dddddd")
lead([55, 130, 140], [500, 500, 505], "#dddddd")
ov.fill_between([11, 55], 505, 517, color=SKY, linewidth=0)
txt(11, 511, "> 0.1 okt.", "white")
lead([55, 135], [509.5, 509.5], SKY)
lead([55, 135], [512.5, 512.5], SKY)
txt(6, 526, "Widzialność", ORANGE)
lead([67, 130, 172], [527, 527, 465], ORANGE)
txt(6, 543, "Chmury:")
ov.fill_between([10, 51], 551, 563, color=SKY, linewidth=0)
txt(10, 556, "wysokie", "white")
lead([54, 185], [555.5, 555.5], SKY)
lead([54, 185], [558.5, 558.5], SKY)
txt(10, 569, "średnie", "#999999")
lead([48, 190], [571, 571], "#999999")
txt(10, 581, "niskie", "#333333")
lead([40, 135], [582, 582], "#333333")
txt(10, 594, "bardzo niskie", "#333333")
lead([74, 140], [594, 594], "#333333")
txt(6, 606, "Mgła", "#ffb400")
lead([30, 218, 218], [606, 606, 600], "#ffb400")
txt(6, 622, "Czas uniwersalny (UTC)")
lead([139, 148, 157], [622, 622, 608])

fig.savefig("out.png", dpi=100)
